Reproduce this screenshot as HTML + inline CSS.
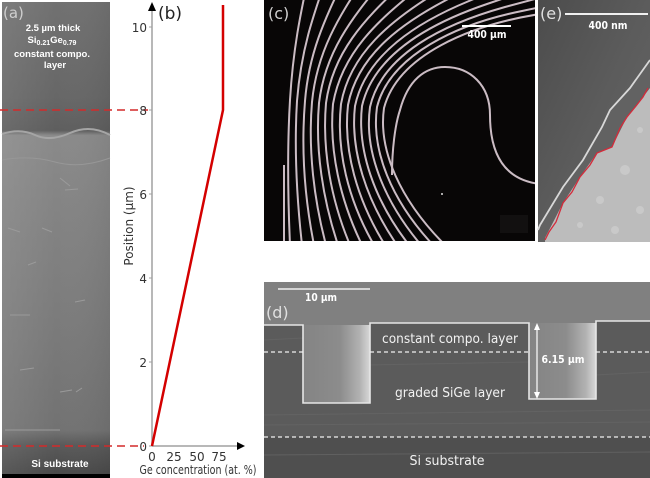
<!DOCTYPE html>
<html><head><meta charset="utf-8"><style>
html,body{margin:0;padding:0;background:#fff;width:650px;height:478px;overflow:hidden;}
svg{display:block;}
</style></head><body>
<svg width="650" height="478" viewBox="0 0 650 478" xmlns="http://www.w3.org/2000/svg">
<defs>
<linearGradient id="aG" x1="0" y1="0" x2="0" y2="1">
<stop offset="0" stop-color="#717171"/>
<stop offset="0.2" stop-color="#676767"/>
<stop offset="0.27" stop-color="#5e5e5e"/>
<stop offset="0.28" stop-color="#8a8a8a"/>
<stop offset="0.45" stop-color="#838383"/>
<stop offset="0.65" stop-color="#7c7c7c"/>
<stop offset="0.9" stop-color="#727272"/>
<stop offset="0.93" stop-color="#5a5a5a"/>
<stop offset="1" stop-color="#474747"/>
</linearGradient>
<linearGradient id="aH" x1="0" y1="0" x2="1" y2="0">
<stop offset="0" stop-color="#ffffff" stop-opacity="0.08"/>
<stop offset="0.5" stop-color="#ffffff" stop-opacity="0"/>
<stop offset="1" stop-color="#000000" stop-opacity="0.05"/>
</linearGradient>
<linearGradient id="tr" x1="0" y1="0" x2="1" y2="0">
<stop offset="0" stop-color="#848484"/>
<stop offset="0.55" stop-color="#8c8c8c"/>
<stop offset="0.85" stop-color="#b2b2b2"/>
<stop offset="1" stop-color="#d8d8d8"/>
</linearGradient>
<linearGradient id="eG" x1="0" y1="0" x2="1" y2="1">
<stop offset="0" stop-color="#4c4c4c"/>
<stop offset="0.5" stop-color="#5c5c5c"/>
<stop offset="1" stop-color="#666"/>
</linearGradient>
<clipPath id="cc"><rect x="264" y="0" width="271" height="241"/></clipPath>
</defs>

<!-- Panel (a) -->
<rect x="2" y="2" width="108" height="476" fill="url(#aG)"/>
<rect x="2" y="2" width="108" height="476" fill="url(#aH)"/>
<path d="M2 134 Q20 128 35 135 T70 133 T110 135" stroke="#a5a5a5" stroke-width="2" fill="none"/>
<path d="M2 160 Q30 155 55 162 T110 158" stroke="#979797" stroke-width="1" fill="none"/>
<g stroke="#9a9a9a" stroke-width="1" fill="none">
<path d="M60 178 L70 186"/><path d="M65 190 L78 189"/><path d="M8 228 L20 232"/><path d="M42 228 L52 232"/>
<path d="M28 265 L36 262"/><path d="M75 302 L85 300"/><path d="M10 315 L30 315"/><path d="M20 370 L34 368"/>
<path d="M60 392 L72 390"/><path d="M76 392 L82 388"/><path d="M5 430 L60 430"/>
</g>
<rect x="2" y="474" width="108" height="4" fill="#000"/>
<text x="3" y="18" font-family="DejaVu Sans, sans-serif" font-size="15" fill="#cfcfcf">(a)</text>
<g font-family="Liberation Sans, sans-serif" font-weight="bold" font-size="9.5" fill="#fff" text-anchor="middle">
<text x="53" y="31">2.5 µm thick</text>
<text x="52" y="43">Si<tspan font-size="7" dy="2">0.21</tspan><tspan dy="-2">Ge</tspan><tspan font-size="7" dy="2">0.79</tspan></text>
<text x="52" y="57">constant compo.</text>
<text x="55" y="68">layer</text>
<text x="60" y="467" font-size="10">Si substrate</text>
</g>

<!-- Panel (b) -->
<line x1="0" y1="110" x2="148" y2="110" stroke="#d42a2a" stroke-width="1.5" stroke-dasharray="8,5"/>
<line x1="0" y1="446" x2="144" y2="446" stroke="#d42a2a" stroke-width="1.5" stroke-dasharray="8,5"/>
<line x1="152" y1="446" x2="152" y2="8" stroke="#a0a0a0" stroke-width="1.5"/>
<polygon points="152,2 148,11 156,11" fill="#000"/>
<line x1="152" y1="446" x2="238" y2="446" stroke="#a0a0a0" stroke-width="1.5"/>
<polygon points="245,446 237,442 237,450" fill="#000"/>
<g stroke="#a0a0a0" stroke-width="1">
<line x1="149" y1="27" x2="152" y2="27"/><line x1="149" y1="110" x2="152" y2="110"/>
<line x1="149" y1="194" x2="152" y2="194"/><line x1="149" y1="278" x2="152" y2="278"/>
<line x1="149" y1="362" x2="152" y2="362"/><line x1="149" y1="446" x2="152" y2="446"/>
</g>
<g font-family="DejaVu Sans, sans-serif" font-size="12" fill="#333" text-anchor="end">
<text x="147" y="32">10</text><text x="147" y="115">8</text><text x="147" y="199">6</text>
<text x="147" y="283">4</text><text x="147" y="367">2</text><text x="147" y="451">0</text>
</g>
<g font-family="DejaVu Sans, sans-serif" font-size="12" fill="#333" text-anchor="middle">
<text x="152" y="461">0</text><text x="174" y="461">25</text><text x="197" y="461">50</text><text x="219" y="461">75</text>
<text x="198" y="474" textLength="117" lengthAdjust="spacingAndGlyphs">Ge concentration (at. %)</text>
<text transform="translate(133,226) rotate(-90)">Position (µm)</text>
</g>
<text x="158" y="19" font-family="DejaVu Sans, sans-serif" font-size="17" fill="#222">(b)</text>
<polyline points="223,5 223,110 152,446" fill="none" stroke="#d40000" stroke-width="2.5"/>

<!-- Panel (c) -->
<rect x="264" y="0" width="271" height="241" fill="#080606"/>
<g clip-path="url(#cc)" fill="none" stroke="#cbbcc4" stroke-width="2">
<path d="M445 245 C400 200 378 150 384 108 C398 55 470 25 540 14 L610 3"/>
<path d="M433 245 C391 200 371 150 377 107 C390 55 457 24 522 11 L588 -3"/>
<path d="M421 245 C383 200 364 150 370 107 C382 54 444 24 505 7 L565 -9"/>
<path d="M409 245 C374 200 357 150 362 106 C374 54 431 23 487 4 L543 -15"/>
<path d="M397 245 C366 200 350 150 355 106 C366 54 418 22 469 1 L521 -21"/>
<path d="M385 245 C357 200 343 150 348 105 C358 53 405 21 452 -3 L498 -27"/>
<path d="M374 245 C348 200 336 150 341 104 C350 53 392 20 434 -6 L476 -33"/>
<path d="M362 245 C340 200 329 150 333 104 C342 52 379 20 416 -10 L454 -39"/>
<path d="M350 245 C331 200 322 150 326 103 C333 52 365 19 399 -13 L432 -45"/>
<path d="M338 245 C323 200 315 150 319 103 C325 52 352 18 381 -17 L409 -51"/>
<path d="M326 245 C314 200 308 150 312 102 C317 51 339 17 363 -20 L387 -57"/>
<path d="M314 245 C305 200 301 150 305 101 C309 51 326 17 345 -23 L365 -63"/>
<path d="M302 245 C297 200 294 150 297 101 C301 50 313 16 328 -27 L342 -69"/>
<path d="M290 245 C288 200 287 150 290 100 C293 50 300 15 310 -30 L320 -75"/>
<line x1="284" y1="165" x2="284" y2="241"/>
<path d="M392 175 C392 150 395 125 400 110 C408 80 425 67 445 67 C470 67 490 85 490 115 C490 155 505 180 540 184"/>
</g>
<rect x="500" y="215" width="28" height="18" fill="#121010"/>
<circle cx="442" cy="194" r="1" fill="#ddd"/>
<text x="268" y="19" font-family="DejaVu Sans, sans-serif" font-size="16" fill="#cfcfcf">(c)</text>
<line x1="462" y1="26" x2="511" y2="26" stroke="#fff" stroke-width="2"/>
<text x="487" y="38" font-family="DejaVu Sans, sans-serif" font-weight="bold" font-size="10.5" fill="#fff" text-anchor="middle" textLength="39" lengthAdjust="spacingAndGlyphs">400 µm</text>

<!-- Panel (e) -->
<rect x="538" y="0" width="112" height="242" fill="url(#eG)"/>
<polygon points="538,230 540,225 563,187 583,160 602,127 610,110 630,88 650,60 650,242 538,242" fill="#626262"/>
<polygon points="545,242 545,238 563,203 580,177 597,153 612,147 627,117 643,97 650,88 650,242" fill="#bcbcbc"/>
<g fill="#d2d2d2" opacity="0.6">
<circle cx="600" cy="200" r="4"/><circle cx="625" cy="170" r="5"/><circle cx="640" cy="210" r="4"/>
<circle cx="580" cy="225" r="3"/><circle cx="615" cy="230" r="4"/><circle cx="640" cy="130" r="3"/>
</g>
<polyline points="538,230 540,225 563,187 583,160 602,127 610,110 630,88 650,60" fill="none" stroke="#d8d8d8" stroke-width="1.8"/>
<polyline points="545,240 549,232 556,222 563,203 572,192 580,177 590,165 597,153 612,147 620,128 627,117 636,106 643,97 648,88" fill="none" stroke="#d42a3a" stroke-width="1.3"/>
<text x="540" y="19" font-family="DejaVu Sans, sans-serif" font-size="16" fill="#e0e0e0">(e)</text>
<line x1="565" y1="14" x2="648" y2="14" stroke="#f0f0f0" stroke-width="2"/>
<text x="608" y="29" font-family="DejaVu Sans, sans-serif" font-weight="bold" font-size="10.5" fill="#fff" text-anchor="middle" textLength="39" lengthAdjust="spacingAndGlyphs">400 nm</text>

<!-- Panel (d) -->
<rect x="264" y="282" width="386" height="196" fill="#808080"/>
<rect x="303" y="325" width="67" height="78" fill="url(#tr)"/>
<rect x="529" y="323" width="67" height="76" fill="url(#tr)"/>
<path d="M264 325 L303 325 L303 403 L370 403 L370 323 L529 323 L529 399 L596 399 L596 321 L650 321 L650 478 L264 478 Z" fill="#5b5b5b"/>
<rect x="264" y="437" width="386" height="41" fill="#4f4f4f"/>
<g stroke="#656565" stroke-width="1" opacity="0.8">
<line x1="264" y1="340" x2="303" y2="338"/><line x1="370" y1="365" x2="529" y2="362"/><line x1="264" y1="415" x2="650" y2="410"/>
<line x1="264" y1="425" x2="650" y2="422"/><line x1="596" y1="375" x2="650" y2="372"/><line x1="264" y1="455" x2="650" y2="452"/>
</g>
<path d="M264 325 L303 325 L303 403 L370 403 L370 323 L529 323 L529 399 L596 399 L596 321 L650 321" fill="none" stroke="#e6e6e6" stroke-width="1.6"/>
<g stroke="#f0f0f0" stroke-width="1.3" stroke-dasharray="4,3">
<line x1="264" y1="352" x2="303" y2="352"/><line x1="370" y1="352" x2="529" y2="352"/><line x1="596" y1="352" x2="650" y2="352"/>
<line x1="264" y1="437" x2="650" y2="437"/>
</g>
<line x1="278" y1="289" x2="370" y2="289" stroke="#f0f0f0" stroke-width="1.5"/>
<text x="321" y="301" font-family="DejaVu Sans, sans-serif" font-weight="bold" font-size="10.5" fill="#fff" text-anchor="middle" textLength="32" lengthAdjust="spacingAndGlyphs">10 µm</text>
<text x="266" y="318" font-family="DejaVu Sans, sans-serif" font-size="16" fill="#e0e0e0">(d)</text>
<line x1="537" y1="327" x2="537" y2="395" stroke="#fff" stroke-width="1.2"/>
<polygon points="537,323 534,330 540,330" fill="#fff"/>
<polygon points="537,399 534,392 540,392" fill="#fff"/>
<g font-family="DejaVu Sans, sans-serif" fill="#f2f2f2" text-anchor="middle">
<text x="450" y="343" font-size="13" textLength="136" lengthAdjust="spacingAndGlyphs">constant compo. layer</text>
<text x="450" y="397" font-size="13" textLength="110" lengthAdjust="spacingAndGlyphs">graded SiGe layer</text>
<text x="447" y="465" font-size="13" textLength="75" lengthAdjust="spacingAndGlyphs">Si substrate</text>
<text x="563" y="363" font-size="10.5" font-weight="bold" fill="#fff" textLength="43" lengthAdjust="spacingAndGlyphs">6.15 µm</text>
</g>
</svg>
</body></html>
